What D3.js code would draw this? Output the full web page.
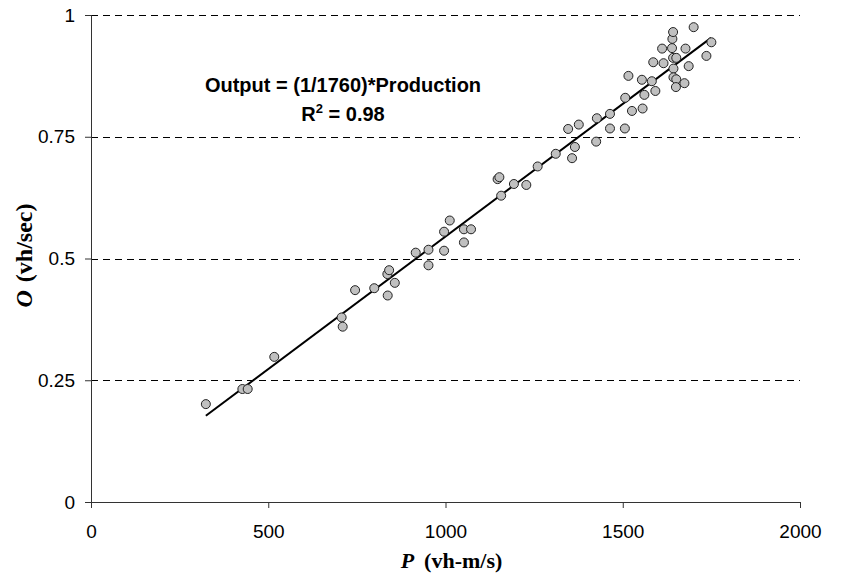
<!DOCTYPE html>
<html>
<head>
<meta charset="utf-8">
<script src="https://cdn.jsdelivr.net/npm/d3@7"></script>
<style>
  body { margin: 0; background: #fff; }
  .tick text { font-family: "Liberation Sans", Arial, sans-serif; font-size: 19px; fill: #000; }
</style>
</head>
<body>
<div id="chart"></div>
<script>
// production P (vh-m/s) vs output O (vh/sec)
var prodP = [324, 427, 442, 517, 707, 710, 745, 799, 836, 841, 837, 857, 916, 952, 952,
    996, 1012, 996, 1052, 1072, 1052, 1147, 1152, 1157, 1193, 1228, 1260, 1311, 1357, 1365,
    1346, 1376, 1425, 1427, 1464, 1464, 1506, 1507, 1526, 1556, 1516, 1554, 1561, 1582, 1592,
    1586, 1615, 1611, 1639, 1640, 1642, 1677, 1700, 1642, 1651, 1643, 1643, 1651, 1650, 1674,
    1686, 1736, 1750];
var outO = [0.201, 0.232, 0.232, 0.298, 0.379, 0.360, 0.435, 0.439, 0.468, 0.476, 0.424, 0.450, 0.512, 0.518, 0.486,
    0.555, 0.578, 0.516, 0.560, 0.560, 0.533, 0.663, 0.667, 0.629, 0.653, 0.651, 0.689, 0.715, 0.706, 0.729,
    0.766, 0.775, 0.740, 0.788, 0.797, 0.767, 0.767, 0.830, 0.803, 0.808, 0.875, 0.867, 0.836, 0.864, 0.844,
    0.903, 0.901, 0.931, 0.932, 0.951, 0.965, 0.931, 0.975, 0.912, 0.912, 0.890, 0.872, 0.868, 0.852, 0.860,
    0.895, 0.916, 0.944];

// fitted line end points
var trendP = [324, 1749];
var trendO = [0.177, 0.953];

var xTicks = [0, 500, 1000, 1500, 2000];
var xTickLabels = ['0', '500', '1000', '1500', '2000'];
var yTicks = [0, 0.25, 0.5, 0.75, 1];
var yTickLabels = ['0', '0.25', '0.5', '0.75', '1'];

var width = 854,
    height = 575;
var margin = {top: 15, left: 91, right: 54, bottom: 73};
var plotW = width - margin.left - margin.right,
    plotH = height - margin.top - margin.bottom;

var svg = d3.select('#chart').append('svg')
    .attr('width', width)
    .attr('height', height);

var g = svg.append('g')
    .attr('transform', 'translate(' + margin.left + ',' + margin.top + ')');

var x = d3.scaleLinear().domain([0, 2000]).range([0, plotW]);
var y = d3.scaleLinear().domain([0, 1]).range([plotH, 0]);

// dashed grid
g.selectAll('line.grid')
    .data(yTicks.filter(function(d) { return d > 0; }))
    .enter().append('line')
    .attr('class', 'grid')
    .attr('x1', 0)
    .attr('x2', plotW)
    .attr('y1', function(d) { return Math.round(y(d)) + 0.5; })
    .attr('y2', function(d) { return Math.round(y(d)) + 0.5; })
    .style('stroke', '#000')
    .style('stroke-width', 1)
    .style('stroke-dasharray', '7,5');

var yAxis = g.append('g')
    .call(d3.axisLeft(y)
        .tickValues(yTicks)
        .tickSize(6)
        .tickPadding(10)
        .tickFormat(function(d, i) { return yTickLabels[i]; }));

var xAxis = g.append('g')
    .attr('transform', 'translate(0,' + plotH + ')')
    .call(d3.axisBottom(x)
        .tickValues(xTicks)
        .tickSize(6)
        .tickPadding(17)
        .tickFormat(function(d, i) { return xTickLabels[i]; }));

[xAxis, yAxis].forEach(function(a) {
    a.select('.domain').style('stroke', '#333');
    a.selectAll('.tick line').style('stroke', '#333');
});

// trend line
g.append('line')
    .attr('x1', x(trendP[0]))
    .attr('y1', y(trendO[0]))
    .attr('x2', x(trendP[1]))
    .attr('y2', y(trendO[1]))
    .style('stroke', '#000')
    .style('stroke-width', 2);

// points
g.selectAll('circle')
    .data(prodP)
    .enter().append('circle')
    .attr('cx', function(d) { return x(d); })
    .attr('cy', function(d, i) { return y(outO[i]); })
    .attr('r', 4.5)
    .style('fill', '#c0c0c0')
    .style('stroke', '#222')
    .style('stroke-width', 1);

// annotation
var note = svg.append('text')
    .attr('text-anchor', 'middle')
    .style('font-family', '"Liberation Sans", Arial, sans-serif')
    .style('font-weight', 'bold')
    .style('font-size', '20px');
note.append('tspan')
    .attr('x', 343).attr('y', 92)
    .text('Output = (1/1760)*Production');
var r2 = note.append('tspan')
    .attr('x', 343).attr('y', 121);
r2.append('tspan').text('R');
r2.append('tspan').attr('dy', -8).style('font-size', '13px').text('2');
r2.append('tspan').attr('dy', 8).text(' = 0.98');

// axis titles
var xTitle = svg.append('text')
    .attr('x', margin.left + plotW / 2 + 6)
    .attr('y', 568)
    .attr('text-anchor', 'middle')
    .style('font-family', '"Liberation Serif", "Times New Roman", serif')
    .style('font-weight', 'bold')
    .style('font-size', '22px');
xTitle.append('tspan').style('font-style', 'italic').text('P');
xTitle.append('tspan').attr('dx', 10).text('(vh-m/s)');

var yTitle = svg.append('text')
    .attr('transform', 'translate(32,' + (margin.top + plotH / 2 - 3) + ') rotate(-90)')
    .attr('text-anchor', 'middle')
    .style('font-family', '"Liberation Serif", "Times New Roman", serif')
    .style('font-weight', 'bold')
    .style('font-size', '24px');
yTitle.append('tspan').style('font-style', 'italic').text('O');
yTitle.append('tspan').attr('dx', 8).text('(vh/sec)');
</script>
</body>
</html>
